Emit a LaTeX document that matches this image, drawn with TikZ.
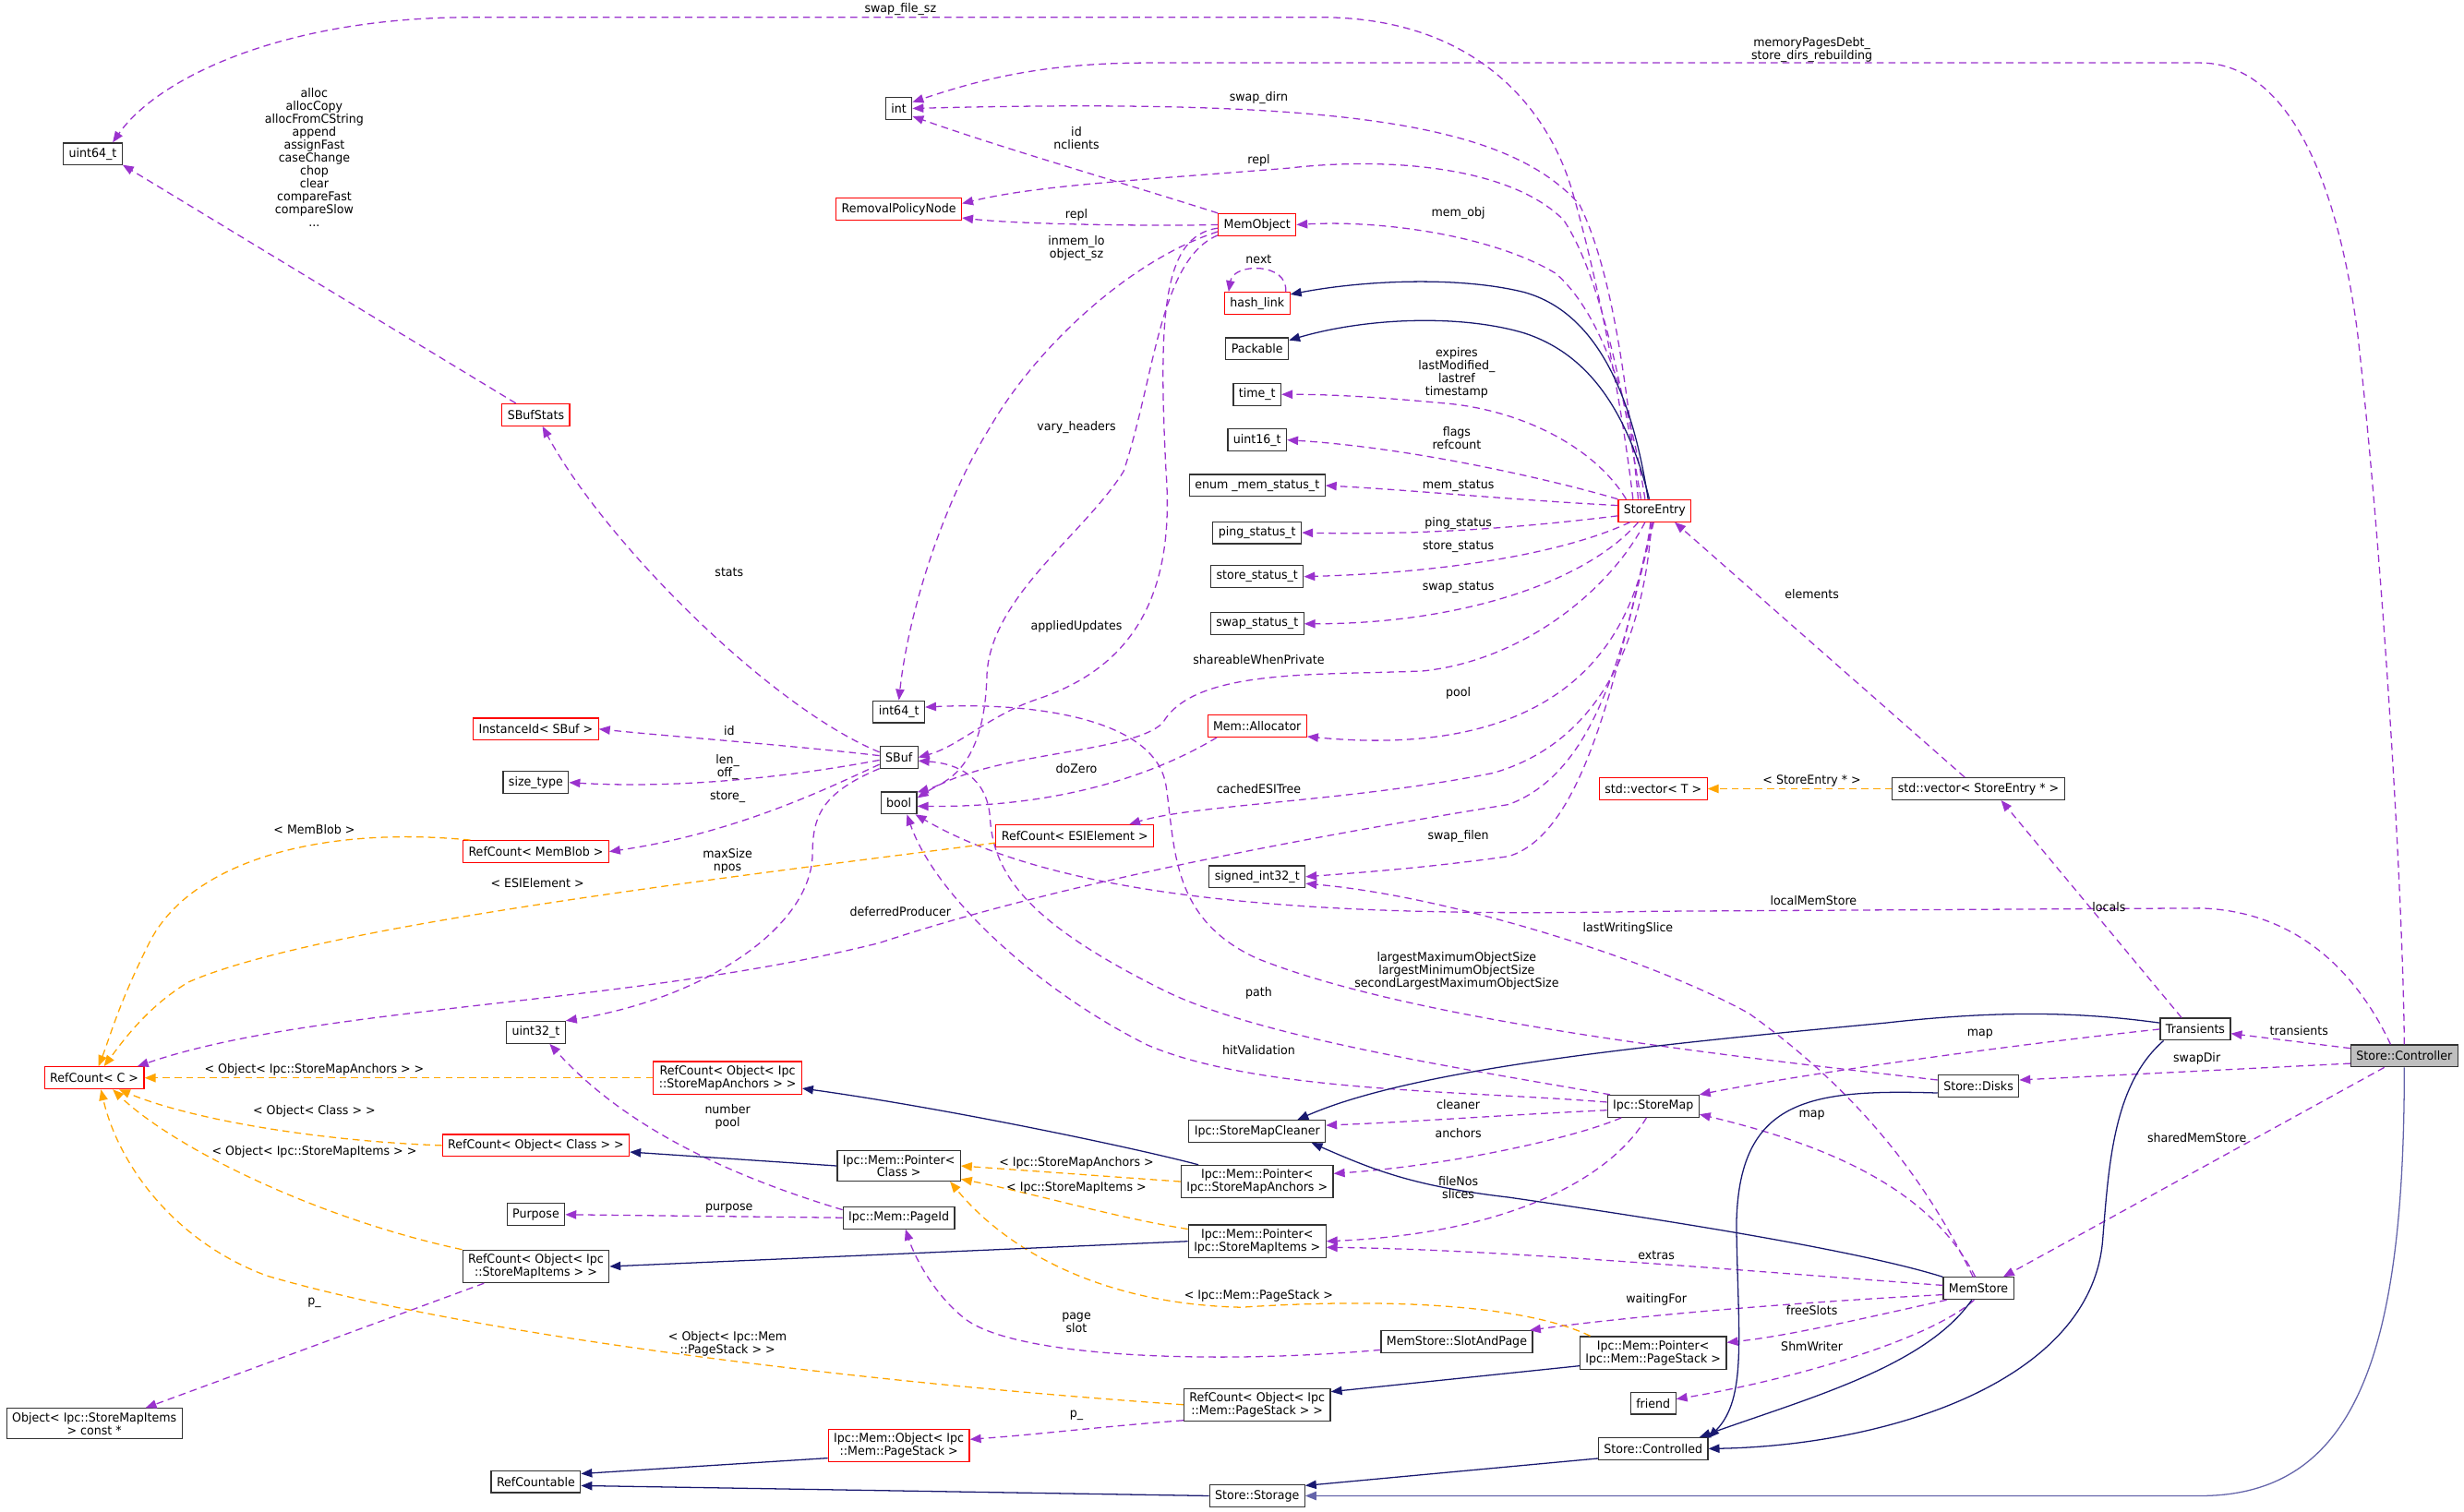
\documentclass[tikz,border=0pt]{standalone}
\usepackage{fontspec}
\setmainfont{DejaVu Sans}[FakeStretch=0.95]
\usetikzlibrary{arrows.meta}
\definecolor{usecol}{HTML}{9A32CD}
\definecolor{tplcol}{HTML}{FFA500}
\definecolor{inhcol}{HTML}{191970}
\definecolor{inhlight}{HTML}{6464AA}
\definecolor{ctrlgray}{HTML}{BFBFBF}

\begin{document}
\begin{tikzpicture}[x=1pt,y=-1pt,
  every node/.style={font=\fontsize{7.8}{8.2}\selectfont},
  box/.style={draw=black!80, line width=0.7pt, fill=white, inner xsep=3.5pt, inner ysep=2.5pt, minimum height=14pt, align=center},
  redbox/.style={box, draw=red},
  member/.style={draw=usecol, line width=0.75pt, dash pattern=on 4.5pt off 3pt, -{Triangle[length=7pt,width=5.5pt]}},
  tmplarg/.style={member, draw=tplcol},
  inherit/.style={draw=inhcol, line width=0.75pt, -{Triangle[length=7pt,width=5.5pt]}},
  elabel/.style={inner sep=0pt, align=center}]
    \useasboundingbox (0,0) rectangle (1568,962);

    \node[box] (u64) at (59,98) {uint64\_t};
    \node[box] (int) at (572,69) {int};
    \node[redbox] (rpn) at (572,133) {RemovalPolicyNode};
    \node[redbox] (memobj) at (800,143) {MemObject};
    \node[redbox] (hashlink) at (800,193) {hash\_link};
    \node[box] (packable) at (800,222) {Packable};
    \node[box] (timet) at (800,251) {time\_t};
    \node[box] (uint16) at (800,280) {uint16\_t};
    \node[box] (memstatus) at (800,309) {enum \_mem\_status\_t};
    \node[box] (pingst) at (800,339) {ping\_status\_t};
    \node[box] (storest) at (800,367) {store\_status\_t};
    \node[box] (swapst) at (800,397) {swap\_status\_t};
    \node[redbox] (entry) at (1053,325) {StoreEntry};
    \node[redbox] (sbufstats) at (341,264) {SBufStats};
    \node[box] (int64) at (572,453) {int64\_t};
    \node[box] (sbuf) at (572,482) {SBuf};
    \node[box] (bool) at (572,511) {bool};
    \node[redbox] (instid) at (341,464) {InstanceId< SBuf >};
    \node[box] (sizetype) at (341,498) {size\_type};
    \node[redbox] (rcmemblob) at (341,542) {RefCount< MemBlob >};
    \node[redbox] (allocator) at (800,462) {Mem::Allocator};
    \node[redbox] (rcesi) at (684,532) {RefCount< ESIElement >};
    \node[redbox] (vecT) at (1052,502) {std::vector< T >};
    \node[box] (vecSE) at (1259,502) {std::vector< StoreEntry * >};
    \node[box] (sint32) at (800,558) {signed\_int32\_t};
    \node[redbox] (rcC) at (60,686) {RefCount< C >};
    \node[box] (uint32) at (341,657) {uint32\_t};
    \node[redbox] (rcanchors) at (463,686) {RefCount< Object< Ipc\\::StoreMapAnchors > >};
    \node[redbox] (rcclass) at (341,729) {RefCount< Object< Class > >};
    \node[box] (ptrclass) at (572,742) {Ipc::Mem::Pointer<\\Class >};
    \node[box] (purpose) at (341,773) {Purpose};
    \node[box] (pageid) at (572,775) {Ipc::Mem::PageId};
    \node[box] (rcitems) at (341,806) {RefCount< Object< Ipc\\::StoreMapItems > >};
    \node[box] (cleaner) at (800,720) {Ipc::StoreMapCleaner};
    \node[box] (storemap) at (1052,704) {Ipc::StoreMap};
    \node[box] (ptranchors) at (800,752) {Ipc::Mem::Pointer<\\Ipc::StoreMapAnchors >};
    \node[box] (ptritems) at (800,790) {Ipc::Mem::Pointer<\\Ipc::StoreMapItems >};
    \node[box] (transients) at (1397,655) {Transients};
    \node[box, fill=ctrlgray] (controller) at (1530,672) {Store::Controller};
    \node[box] (disks) at (1259,691) {Store::Disks};
    \node[box] (memstore) at (1259,820) {MemStore};
    \node[box] (slotpage) at (927,854) {MemStore::SlotAndPage};
    \node[box] (ptrstack) at (1052,861) {Ipc::Mem::Pointer<\\Ipc::Mem::PageStack >};
    \node[box] (friend) at (1052,893) {friend};
    \node[box] (controlled) at (1052,922) {Store::Controlled};
    \node[box] (rcstack) at (800,894) {RefCount< Object< Ipc\\::Mem::PageStack > >};
    \node[redbox] (ipcobj) at (572,920) {Ipc::Mem::Object< Ipc\\::Mem::PageStack >};
    \node[box] (objitems) at (60,906) {Object< Ipc::StoreMapItems\\> const *};
    \node[box] (refcountable) at (341,943) {RefCountable};
    \node[box] (storage) at (800,952) {Store::Storage};

    % members
    \draw[member] (entry.152) .. controls (1030,240) and (1012,160) .. (1000,120) .. controls (985,70) and (940,11) .. (840,11) -- (300,11) .. controls (180,11) and (100,50) .. (u64.30);
    \draw[member] (controller.north) .. controls (1529,560) and (1515,340) .. (1500,210) .. controls (1485,100) and (1450,40) .. (1400,40) -- (730,40) .. controls (660,40) and (620,52) .. (int.25);
    \draw[member] (entry.145) .. controls (1035,240) and (1025,170) .. (1005,130) .. controls (960,80) and (860,62) .. (int.east);
    \draw[member] (memobj.north west) .. controls (720,118) and (640,95) .. (int.-30);
    \draw[member] (entry.140) .. controls (1030,230) and (1015,170) .. (995,140) .. controls (960,105) and (880,100) .. (820,107) .. controls (720,115) and (660,118) .. (rpn.5);
    \draw[member] (memobj.west) .. controls (740,144) and (650,143) .. (rpn.-8);
    \draw[member] (entry.130) .. controls (1038,260) and (1020,200) .. (990,174) .. controls (950,150) and (880,140) .. (memobj.east);
    \draw[member] (memobj.190) .. controls (720,165) and (660,220) .. (630,272) .. controls (600,320) and (578,390) .. (int64.north);
    \draw[member] ([xshift=-3pt]hashlink.north east) .. controls (820,167) and (785,167) .. ([xshift=3pt]hashlink.north west);
    \draw[member] (entry.158) .. controls (1015,285) and (970,262) .. (923,257) .. controls (880,253) and (850,251) .. (timet.east);
    \draw[member] (entry.north west) .. controls (990,306) and (900,285) .. (uint16.east);
    \draw[member] (entry.172) .. controls (960,318) and (900,312) .. (memstatus.east);
    \draw[member] (entry.188) .. controls (990,333) and (920,341) .. (pingst.east);
    \draw[member] (entry.205) .. controls (1000,350) and (930,364) .. (storest.east);
    \draw[member] (entry.215) .. controls (1010,370) and (930,397) .. (swapst.east);
    \draw[member] (entry.230) .. controls (1025,375) and (970,420) .. (906,427) .. controls (840,430) and (760,425) .. (740,460) .. controls (720,480) and (630,478) .. (bool.15);
    \draw[member] (entry.250) .. controls (1035,460) and (930,478) .. (allocator.-12);
    \draw[member] (entry.255) .. controls (1045,420) and (1010,475) .. (950,492) .. controls (860,510) and (760,512) .. (rcesi.12);
    \draw[member] (entry.260) .. controls (1030,420) and (1010,530) .. (960,545) .. controls (910,552) and (870,555) .. (sint32.east);
    \draw[member] (memobj.185) .. controls (740,150) and (737,200) .. (742,300) .. controls (748,380) and (720,425) .. (660,445) .. controls (630,455) and (610,475) .. (sbuf.east);
    \draw[member] (memobj.195) .. controls (738,165) and (735,240) .. (715,300) .. controls (690,340) and (630,380) .. (628,430) .. controls (627,470) and (615,495) .. (bool.30);
    \draw[member] (sbufstats.150) -- (u64.-20);
    \draw[member] (sbuf.165) .. controls (490,450) and (385,345) .. (sbufstats.-60);
    \draw[member] (sbuf.175) .. controls (500,474) and (430,469) .. (instid.east);
    \draw[member] (sbuf.188) .. controls (500,495) and (430,502) .. (sizetype.east);
    \draw[member] (sbuf.200) .. controls (530,500) and (470,530) .. (rcmemblob.east);
    \draw[member] (sbuf.210) .. controls (522,505) and (517,520) .. (517,545) .. controls (515,590) and (450,635) .. (uint32.north east);
    \draw[member] (allocator.196) .. controls (740,490) and (680,514) .. (bool.-10);
    \draw[member] (controller.140) .. controls (1505,630) and (1470,580) .. (1400,578) -- (1050,580) .. controls (850,584) and (680,575) .. (bool.-35);
    \draw[member] (storemap.175) .. controls (930,694) and (800,695) .. (730,665) .. controls (660,630) and (595,570) .. (bool.-55);
    \draw[member] (storemap.165) .. controls (930,680) and (800,660) .. (740,630) .. controls (660,590) and (632,560) .. (630,520) .. controls (628,495) and (610,486) .. (sbuf.-10);
    \draw[member] (disks.172) .. controls (1100,672) and (900,650) .. (800,610) .. controls (745,585) and (748,540) .. (742,500) .. controls (735,455) and (650,447) .. (int64.10);
    \draw[member] (memstore.115) .. controls (1230,760) and (1190,700) .. (1113,645) .. controls (1050,610) and (920,570) .. (sint32.-8);
    \draw[member] (entry.265) .. controls (1035,400) and (1020,490) .. (960,512) .. controls (850,530) and (680,560) .. (560,600) .. controls (400,640) and (200,640) .. (rcC.15);
    \draw[member] (transients.west) .. controls (1280,665) and (1150,683) .. (storemap.14);
    \draw[member] (memstore.105) .. controls (1235,770) and (1190,735) .. (storemap.-10);
    \draw[member] (storemap.185) .. controls (950,710) and (900,714) .. (cleaner.5);
    \draw[member] (storemap.200) .. controls (1000,725) and (920,742) .. (ptranchors.6);
    \draw[member] (storemap.240) .. controls (1025,750) and (960,785) .. (ptritems.east);
    \draw[member] (memstore.175) .. controls (1100,808) and (950,795) .. (ptritems.-5);
    \draw[member] (memstore.190) .. controls (1120,830) and (1020,840) .. (slotpage.9);
    \draw[member] (memstore.200) .. controls (1190,838) and (1140,850) .. (ptrstack.8);
    \draw[member] (memstore.250) .. controls (1225,855) and (1130,880) .. (friend.10);
    \draw[member] (controller.172) -- (transients.-7);
    \draw[member] (controller.188) -- (disks.8);
    \draw[member] (controller.-150) -- (memstore.25);
    \draw[member] (transients.140) -- (vecSE.-27);
    \draw[member] (vecSE.140) -- (entry.-30);
    \draw[member] (pageid.172) .. controls (470,750) and (400,720) .. (uint32.-40);
    \draw[member] (pageid.west) -- (purpose.east);
    \draw[member] (slotpage.186) .. controls (780,868) and (650,865) .. (615,840) .. controls (595,825) and (582,800) .. (pageid.-60);
    \draw[member] (rcitems.198) -- (objitems.17);
    \draw[member] (rcstack.192) .. controls (700,908) and (660,913) .. (ipcobj.5);

    % template instances
    \draw[tmplarg] (rcmemblob.170) .. controls (200,525) and (120,550) .. (95,600) .. controls (75,640) and (70,660) .. (rcC.70);
    \draw[tmplarg] (rcesi.185) .. controls (450,560) and (200,590) .. (120,625) .. controls (95,640) and (80,660) .. (rcC.50);
    \draw[tmplarg] (rcanchors.west) -- (rcC.east);
    \draw[tmplarg] (rcclass.west) .. controls (200,726) and (120,712) .. (rcC.-25);
    \draw[tmplarg] (rcitems.north west) .. controls (200,775) and (110,730) .. (rcC.-32);
    \draw[tmplarg] (rcstack.west) .. controls (550,880) and (300,850) .. (170,812) .. controls (110,790) and (75,740) .. (rcC.-60);
    \draw[tmplarg] (ptranchors.west) -- (ptrclass.east);
    \draw[tmplarg] (ptritems.170) .. controls (710,775) and (660,760) .. (ptrclass.-12);
    \draw[tmplarg] (ptrstack.165) .. controls (970,830) and (880,826) .. (790,832) .. controls (700,830) and (640,795) .. (ptrclass.-17);
    \draw[tmplarg] (vecSE.west) -- (vecT.east);

    % inheritance
    \draw[inherit] (entry.120) .. controls (1040,260) and (1020,200) .. (970,186) .. controls (930,176) and (870,178) .. (hashlink.15);
    \draw[inherit] (entry.115) .. controls (1035,260) and (1010,225) .. (970,212) .. controls (930,200) and (870,202) .. (packable.15);
    \draw[inherit] (ptrclass.west) -- (rcclass.-4);
    \draw[inherit] (ptranchors.164) .. controls (720,730) and (600,705) .. (rcanchors.-8);
    \draw[inherit] (ptritems.west) -- (rcitems.east);
    \draw[inherit] (ptrstack.190) -- (rcstack.10);
    \draw[inherit] (transients.170) .. controls (1330,645) and (1280,642) .. (1200,651) .. controls (1050,665) and (900,680) .. (cleaner.16);
    \draw[inherit] (memstore.north west) .. controls (1180,795) and (1050,775) .. (960,762) .. controls (900,755) and (875,745) .. (cleaner.-12);
    \draw[inherit] (disks.190) .. controls (1150,693) and (1106,700) .. (1105,780) .. controls (1106,850) and (1112,890) .. (controlled.11);
    \draw[inherit] (transients.200) .. controls (1345,690) and (1342,740) .. (1338,790) .. controls (1330,880) and (1200,920) .. (controlled.east);
    \draw[inherit] (memstore.-120) .. controls (1225,870) and (1150,890) .. (controlled.14);
    \draw[inherit] (controlled.190) -- (storage.12);
    \draw[inherit, draw=inhlight] (controller.south) .. controls (1530,860) and (1500,952) .. (1400,952) -- (storage.east);
    \draw[inherit] (ipcobj.190) -- (refcountable.10);
    \draw[inherit] (storage.west) -- (refcountable.-5);

    % edge labels
    \node[elabel] (lswapfile) at (573,6) {swap\_file\_sz};
    \node[elabel] (lmempages) at (1153,32) {memoryPagesDebt\_\\store\_dirs\_rebuilding};
    \node[elabel] (lswapdirn) at (801,62) {swap\_dirn};
    \node[elabel] (lidncl) at (685,88) {id\\nclients};
    \node[elabel] (lrepla) at (801,102) {repl};
    \node[elabel] (lreplb) at (685,137) {repl};
    \node[elabel] (lmemobj) at (928,136) {mem\_obj};
    \node[elabel] (linmem) at (685,158) {inmem\_lo\\object\_sz};
    \node[elabel] (lnext) at (801,165) {next};
    \node[elabel] (lalloc) at (200,100) {alloc\\allocCopy\\allocFromCString\\append\\assignFast\\caseChange\\chop\\clear\\compareFast\\compareSlow\\...};
    \node[elabel] (lexpires) at (927,237) {expires\\lastModified\_\\lastref\\timestamp};
    \node[elabel] (lflags) at (927,279) {flags\\refcount};
    \node[elabel] (lvary) at (685,272) {vary\_headers};
    \node[elabel] (lmemst) at (928,309) {mem\_status};
    \node[elabel] (lping) at (928,333) {ping\_status};
    \node[elabel] (lstorest) at (928,348) {store\_status};
    \node[elabel] (lstats) at (464,364) {stats};
    \node[elabel] (lswapst) at (928,374) {swap\_status};
    \node[elabel] (lelements) at (1153,378) {elements};
    \node[elabel] (lapplied) at (685,399) {appliedUpdates};
    \node[elabel] (lshare) at (801,420) {shareableWhenPrivate};
    \node[elabel] (lpool) at (928,441) {pool};
    \node[elabel] (lid) at (464,465) {id};
    \node[elabel] (llen) at (463,488) {len\_\\off\_};
    \node[elabel] (ldozero) at (685,489) {doZero};
    \node[elabel] (lvecse) at (1153,497) {< StoreEntry * >};
    \node[elabel] (lcached) at (801,502) {cachedESITree};
    \node[elabel] (lstore) at (463,507) {store\_};
    \node[elabel] (lmemblob) at (200,528) {< MemBlob >};
    \node[elabel] (lswapfilen) at (928,532) {swap\_filen};
    \node[elabel] (lmaxsize) at (463,548) {maxSize\\npos};
    \node[elabel] (lesi) at (342,562) {< ESIElement >};
    \node[elabel] (llocalmem) at (1154,573) {localMemStore};
    \node[elabel] (llocals) at (1342,577) {locals};
    \node[elabel] (ldeferred) at (573,580) {deferredProducer};
    \node[elabel] (llastwr) at (1036,591) {lastWritingSlice};
    \node[elabel] (llargest) at (927,618) {largestMaximumObjectSize\\largestMinimumObjectSize\\secondLargestMaximumObjectSize};
    \node[elabel] (lpath) at (801,632) {path};
    \node[elabel] (lmapa) at (1260,658) {map};
    \node[elabel] (ltrans) at (1463,656) {transients};
    \node[elabel] (lhitval) at (801,668) {hitValidation};
    \node[elabel] (lswapdir) at (1398,674) {swapDir};
    \node[elabel] (lobjanch) at (200,681) {< Object< Ipc::StoreMapAnchors > >};
    \node[elabel] (lcleaner) at (928,703) {cleaner};
    \node[elabel] (lnumber) at (463,711) {number\\pool};
    \node[elabel] (lobjclass) at (200,707) {< Object< Class > >};
    \node[elabel] (lmapb) at (1153,710) {map};
    \node[elabel] (lanchors) at (928,721) {anchors};
    \node[elabel] (lshared) at (1398,724) {sharedMemStore};
    \node[elabel] (lobjitems) at (200,733) {< Object< Ipc::StoreMapItems > >};
    \node[elabel] (lptranch) at (685,740) {< Ipc::StoreMapAnchors >};
    \node[elabel] (lfilenos) at (928,756) {fileNos\\slices};
    \node[elabel] (lptritems) at (685,756) {< Ipc::StoreMapItems >};
    \node[elabel] (lpurpose) at (464,769) {purpose};
    \node[elabel] (lextras) at (1054,799) {extras};
    \node[elabel] (lptrstack) at (801,825) {< Ipc::Mem::PageStack >};
    \node[elabel] (lwaiting) at (1054,827) {waitingFor};
    \node[elabel] (lpa) at (200,829) {p\_};
    \node[elabel] (lfree) at (1153,834) {freeSlots};
    \node[elabel] (lpage) at (685,842) {page\\slot};
    \node[elabel] (lobjstack) at (463,855) {< Object< Ipc::Mem\\::PageStack > >};
    \node[elabel] (lshm) at (1153,857) {ShmWriter};
    \node[elabel] (lpb) at (685,901) {p\_};
\end{tikzpicture}
\end{document}
